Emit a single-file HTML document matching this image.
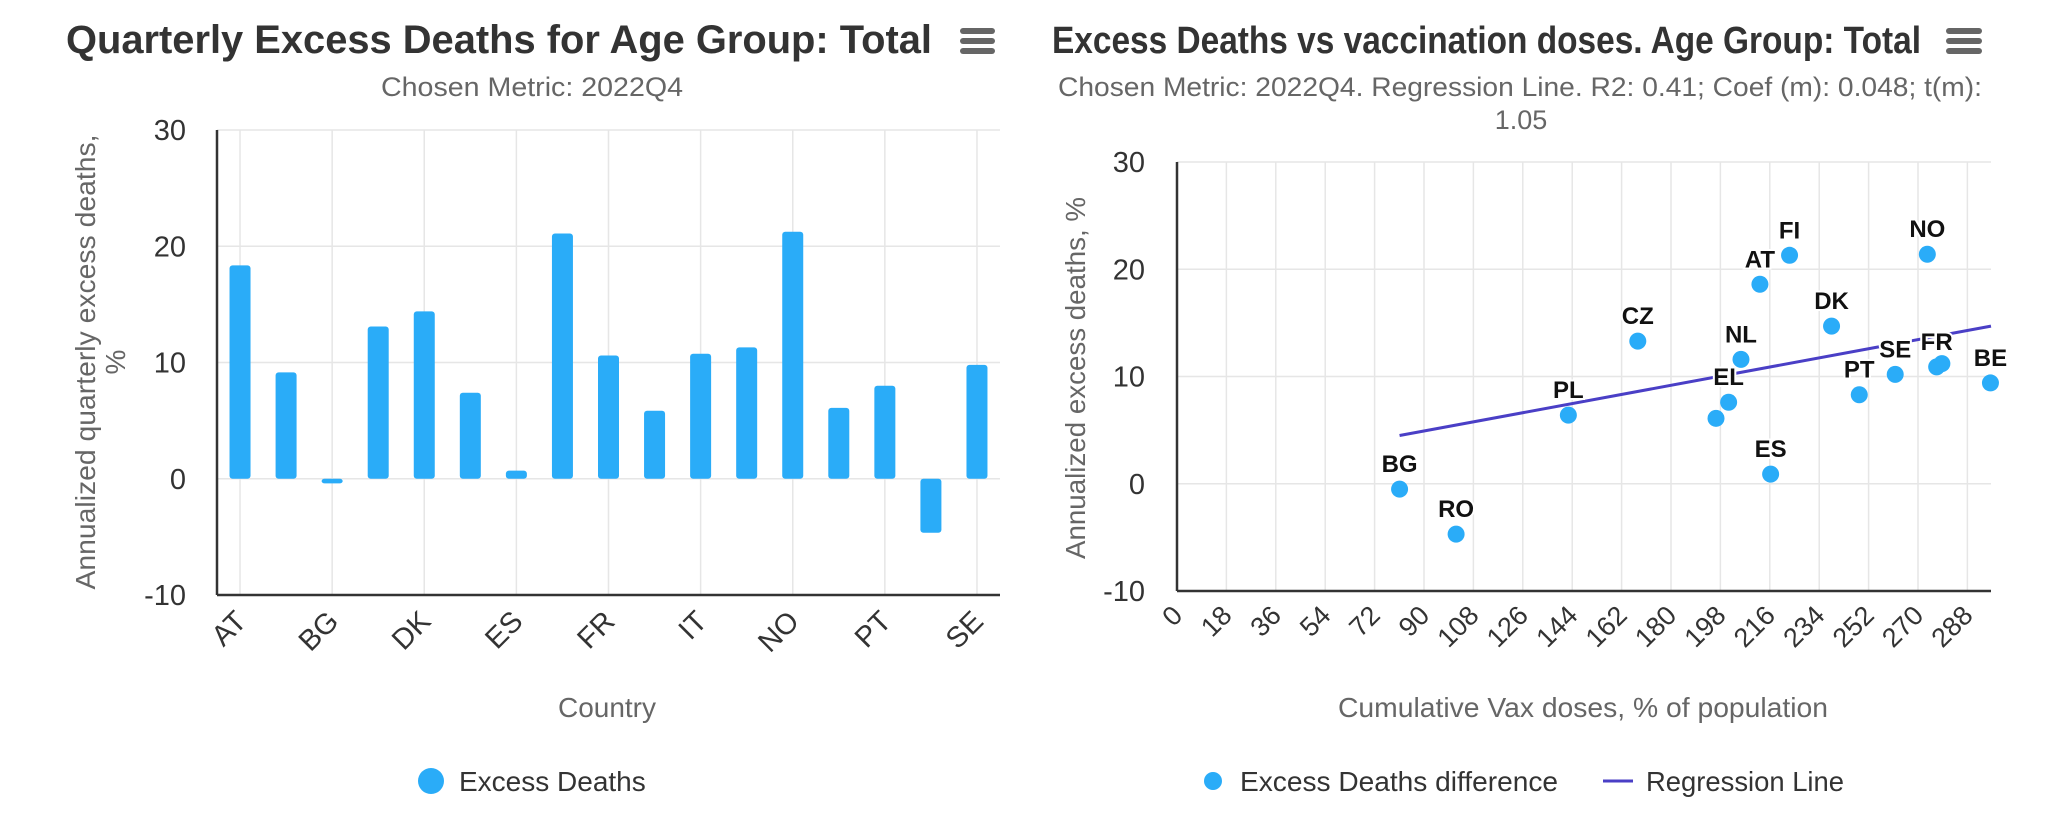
<!DOCTYPE html>
<html><head><meta charset="utf-8">
<style>
html,body{margin:0;padding:0;background:#fff;}
svg{display:block;font-family:"Liberation Sans",Arial,sans-serif;}
</style></head>
<body>
<svg id="root" width="2058" height="816" viewBox="0 0 2058 816" xmlns="http://www.w3.org/2000/svg">
  <g>
    <text x="66" y="53" font-size="40" font-weight="bold" fill="#333" textLength="866" lengthAdjust="spacingAndGlyphs">Quarterly Excess Deaths for Age Group: Total</text>
    <text x="381" y="96" font-size="27" fill="#666" textLength="302" lengthAdjust="spacingAndGlyphs">Chosen Metric: 2022Q4</text>
    <g fill="#666">
      <rect x="960" y="28" width="35" height="6" rx="3"/><rect x="960" y="38" width="35" height="6" rx="3"/><rect x="960" y="48" width="35" height="6" rx="3"/>
    </g>
    <g id="barGrid"></g>
    <g id="bars"></g>
    <g id="barAxes"></g>
    <text transform="translate(95,362) rotate(-90)" font-size="28" fill="#666" text-anchor="middle" textLength="455" lengthAdjust="spacingAndGlyphs">Annualized quarterly excess deaths,</text>
    <text transform="translate(125,362) rotate(-90)" font-size="28" fill="#666" text-anchor="middle">%</text>
    <text x="607" y="717" font-size="28" fill="#666" text-anchor="middle">Country</text>
    <g>
      <circle cx="431" cy="781" r="13" fill="#2aacf8"/>
      <text x="459" y="791" font-size="28" fill="#333">Excess Deaths</text>
    </g>
  </g>
  <g>
    <text x="1052" y="53" font-size="38" font-weight="bold" fill="#333" textLength="869" lengthAdjust="spacingAndGlyphs">Excess Deaths vs vaccination doses. Age Group: Total</text>
    <text x="1520" y="96" font-size="27" fill="#666" text-anchor="middle" textLength="924" lengthAdjust="spacingAndGlyphs">Chosen Metric: 2022Q4. Regression Line. R2: 0.41; Coef (m): 0.048; t(m):</text>
    <text x="1521" y="129" font-size="27" fill="#666" text-anchor="middle">1.05</text>
    <g fill="#666">
      <rect x="1946" y="28" width="36" height="6" rx="3"/><rect x="1946" y="38" width="36" height="6" rx="3"/><rect x="1946" y="48" width="36" height="6" rx="3"/>
    </g>
    <g id="scGrid"></g>
    <g id="scAxes"></g>
    <g id="scLine"></g>
    <g id="scPoints"></g>
    <text transform="translate(1085,378) rotate(-90)" font-size="28" fill="#666" text-anchor="middle" textLength="362" lengthAdjust="spacingAndGlyphs">Annualized excess deaths, %</text>
    <text x="1583" y="717" font-size="28" fill="#666" text-anchor="middle" textLength="490" lengthAdjust="spacingAndGlyphs">Cumulative Vax doses, % of population</text>
    <g>
      <circle cx="1213" cy="781" r="9" fill="#2aacf8"/>
      <text x="1240" y="791" font-size="28" fill="#333" textLength="318" lengthAdjust="spacingAndGlyphs">Excess Deaths difference</text>
    </g>
    <g>
      <line x1="1603" y1="781" x2="1633" y2="781" stroke="#4a3fc6" stroke-width="3"/>
      <text x="1646" y="791" font-size="28" fill="#333" textLength="198" lengthAdjust="spacingAndGlyphs">Regression Line</text>
    </g>
  </g>
</svg>
<script>
// ---- bar chart data ----
const barCategories = ["AT","BE","BG","CZ","DK","EL","ES","FI","FR","HU","IT","NL","NO","PL","PT","RO","SE"];
const barValues = [18.35,9.15,-0.4,13.1,14.4,7.4,0.7,21.1,10.6,5.85,10.75,11.3,21.25,6.1,8.0,-4.65,9.8];
const barYTicks = [-10,0,10,20,30];
// ---- scatter data ----
const scLabels = ["AT","BE","BG","CZ","DK","EL","ES","FI","FR","HU","IT","NL","NO","PL","PT","RO","SE"];
const scX = [212.4,296.4,81.1,167.9,238.5,201,216.3,223.2,276.8,196.4,278.7,205.5,273.4,142.6,248.6,101.7,261.7];
const scY = [18.6,9.4,-0.5,13.3,14.7,7.6,0.9,21.3,10.9,6.1,11.2,11.6,21.4,6.4,8.3,-4.7,10.2];
const scShowLabel = [true,true,true,true,true,true,true,true,true,false,false,true,true,true,true,true,true];
const regX = [81.1,296.6];
const regY = [4.5,14.7];
const scXTicks = [0,18,36,54,72,90,108,126,144,162,180,198,216,234,252,270,288];
const scYTicks = [-10,0,10,20,30];

const NS = "http://www.w3.org/2000/svg";
function mk(tag, attrs, parent){ const e=document.createElementNS(NS,tag); for(const k in attrs) e.setAttribute(k,attrs[k]); parent.appendChild(e); return e; }

// ---- bar chart ----
const bL=217,bR=1000,bT=130,bB=595,bMin=-10,bMax=30;
const by = v => bB - (v-bMin)/(bMax-bMin)*(bB-bT);
const band = (bR-bL)/barCategories.length;
const bx = i => bL + band*(i+0.5);
const bg = document.getElementById('barGrid');
barYTicks.forEach(t=>{
  const l=mk('line',{x1:bL,x2:bR,y1:by(t),y2:by(t),stroke:'#e6e6e6','stroke-width':1.5},bg);
  
  
  const tx=mk('text',{x:186,y:by(t)+10,'font-size':29,fill:'#333','text-anchor':'end'},bg);
  tx.textContent=t;
  
  
});
barCategories.forEach((c,i)=>{
  if(i%2) return;
  const l=mk('line',{x1:bx(i),x2:bx(i),y1:bT,y2:bB,stroke:'#e6e6e6','stroke-width':1.5},bg);
  
  
  const tx=mk('text',{transform:`translate(${bx(i)+8},${bB+28}) rotate(-45)`,'font-size':29,fill:'#333','text-anchor':'end'},bg);
  tx.textContent=c;
  
  
});
const bars=document.getElementById('bars');
barValues.forEach((v,i)=>{
  const y0=by(0), y1=by(v), w=21;
  const r=mk('rect',{x:bx(i)-w/2,y:Math.min(y0,y1),width:w,height:Math.max(Math.abs(y0-y1),2),rx:3,fill:'#2aacf8'},bars);
  
  
});
const ba=document.getElementById('barAxes');
const bxl=mk('line',{x1:bL,x2:bL,y1:bT,y2:bB,stroke:'#333','stroke-width':2.5},ba);


const bxb=mk('line',{x1:bL,x2:bR,y1:bB,y2:bB,stroke:'#333','stroke-width':2.5},ba);



// ---- scatter chart ----
const sL=1177,sR=1991,sT=162,sB=591,sXMax=296.6,sYMin=-10,sYMax=30;
const sx = v => sL + v/sXMax*(sR-sL);
const sy = v => sB - (v-sYMin)/(sYMax-sYMin)*(sB-sT);
const sg=document.getElementById('scGrid');
scYTicks.forEach(t=>{
  const l=mk('line',{x1:sL,x2:sR,y1:sy(t),y2:sy(t),stroke:'#e6e6e6','stroke-width':1.5},sg);
  
  
  const tx=mk('text',{x:1145,y:sy(t)+10,'font-size':29,fill:'#333','text-anchor':'end'},sg);
  tx.textContent=t;
  
  
});
scXTicks.forEach(t=>{
  const l=mk('line',{x1:sx(t),x2:sx(t),y1:sT,y2:sB,stroke:'#e6e6e6','stroke-width':1.5},sg);
  
  
  const tx=mk('text',{transform:`translate(${sx(t)+7},${sB+26}) rotate(-45)`,'font-size':27,fill:'#333','text-anchor':'end'},sg);
  tx.textContent=t;
  
  
});
const sa=document.getElementById('scAxes');
const sal=mk('line',{x1:sL,x2:sL,y1:sT,y2:sB,stroke:'#333','stroke-width':2.5},sa);


const sab=mk('line',{x1:sL,x2:sR,y1:sB,y2:sB,stroke:'#333','stroke-width':2.5},sa);


const rl=mk('line',{x1:sx(regX[0]),y1:sy(regY[0]),x2:sx(regX[1]),y2:sy(regY[1]),stroke:'#4a3fc6','stroke-width':3},document.getElementById('scLine'));


const sp=document.getElementById('scPoints');
scX.forEach((x,i)=>{
  const c=mk('circle',{cx:sx(x),cy:sy(scY[i]),r:8.5,fill:'#2aacf8'},sp);
  
  
});
scX.forEach((x,i)=>{
  if(!scShowLabel[i]) return;
  const t=mk('text',{x:sx(x),y:sy(scY[i])-17,'font-size':24,'font-weight':'bold',fill:'#111','text-anchor':'middle',stroke:'#fff','stroke-width':4,'paint-order':'stroke'},sp);
  t.textContent=scLabels[i];
  
  
});
</script>
</body></html>
